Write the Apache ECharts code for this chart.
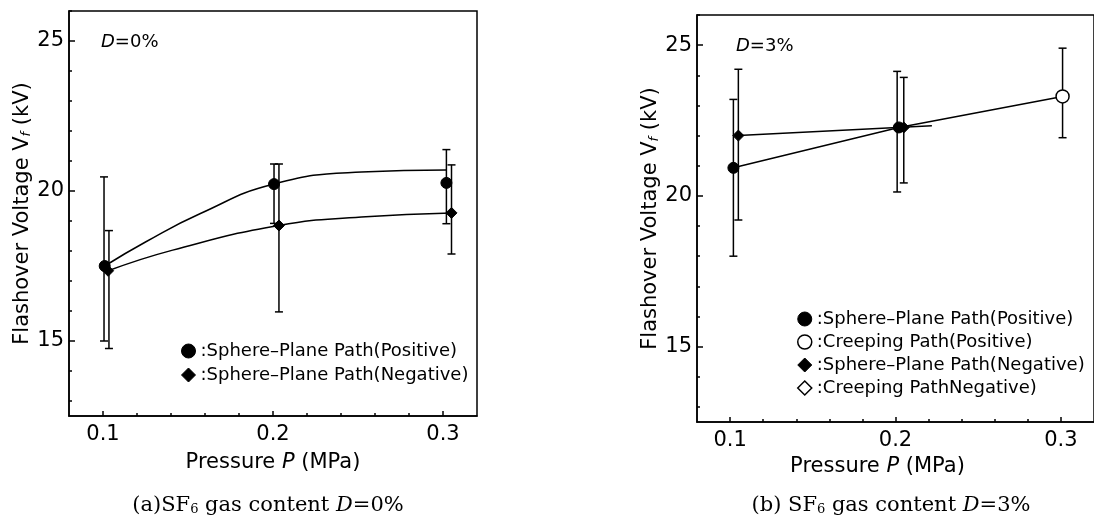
<!DOCTYPE html>
<html><head><meta charset="utf-8">
<script src="https://cdn.jsdelivr.net/npm/echarts@6/dist/echarts.min.js"></script>
<style>html,body{margin:0;padding:0;background:#fff}#c{width:1094px;height:518px}</style>
</head><body><div id="c"></div>
<script>
// ---- tick labels ----
const xTicks = [0.1, 0.2, 0.3];
const xMinorTicks = [0.12, 0.14, 0.16, 0.18, 0.22, 0.24, 0.26, 0.28];
const yTicks = [15, 20, 25];
const yMinorTicks = [13, 14, 16, 17, 18, 19, 21, 22, 23, 24, 26];

// ---- (a) D=0% ----
const aPosPoints = [[0.101, 17.5], [0.2006, 20.23], [0.302, 20.27]];
const aPosErr = [[0.1006, 15.0, 20.47], [0.2006, 18.92, 20.9], [0.302, 18.91, 21.38]];
const aNegPoints = [[0.103, 17.34], [0.2035, 18.85], [0.305, 19.27]];
const aNegErr = [[0.1035, 14.75, 18.68], [0.2035, 15.97, 20.9], [0.305, 17.9, 20.87]];
const aPosCurve = [[0.101, 17.5], [0.125, 18.3], [0.157, 19.24], [0.2006, 20.23], [0.252, 20.63], [0.302, 20.7]];
const aNegCurve = [[0.103, 17.34], [0.141, 18.03], [0.2035, 18.85], [0.252, 19.13], [0.305, 19.27]];

// ---- (b) D=3% ----
const bPosPoints = [[0.102, 20.93], [0.202, 22.27]];
const bPosErr = [[0.102, 18.0, 23.2], [0.201, 20.13, 24.13]];
const bCreepPosPoints = [[0.301, 23.3]];
const bCreepPosErr = [[0.301, 21.93, 24.9]];
const bNegPoints = [[0.105, 22.0], [0.205, 22.27]];
const bNegErr = [[0.105, 19.2, 24.2], [0.205, 20.43, 23.93]];
const bPosLine = [[0.102, 20.93], [0.202, 22.27], [0.301, 23.3]];
const bNegLine = [[0.105, 22.0], [0.222, 22.33]];

const SANS = 'DejaVu Sans';
const SERIF = 'DejaVu Serif';
const BLACK = '#000';

function errRender(params, api) {
  const x = api.value(0), lo = api.value(1), hi = api.value(2);
  const p1 = api.coord([x, hi]), p2 = api.coord([x, lo]);
  const w = 4, st = { stroke: BLACK, lineWidth: 1.5 };
  return { type: 'group', children: [
    { type: 'line', shape: { x1: p1[0], y1: p1[1], x2: p2[0], y2: p2[1] }, style: st },
    { type: 'line', shape: { x1: p1[0] - w, y1: p1[1], x2: p1[0] + w, y2: p1[1] }, style: st },
    { type: 'line', shape: { x1: p2[0] - w, y1: p2[1], x2: p2[0] + w, y2: p2[1] }, style: st }
  ]};
}

function xMain(grid, nameGap, pad) {
  return {
    type: 'value', gridIndex: grid, position: 'bottom', min: 0.08, max: 0.32,
    axisLine: { show: true, lineStyle: { color: BLACK, width: 1.5 } },
    axisTick: { show: true, inside: true, length: 5, customValues: xTicks, lineStyle: { color: BLACK, width: 1.5 } },
    axisLabel: { show: true, customValues: xTicks, formatter: v => v.toFixed(1), color: BLACK, fontSize: 21, fontFamily: SANS, margin: 8 },
    splitLine: { show: false },
    name: 'Pressure {i|P} (MPa)', nameLocation: 'middle', nameGap: nameGap,
    nameTextStyle: { color: BLACK, fontSize: 21, fontFamily: SANS, padding: pad,
      rich: { i: { fontStyle: 'italic', fontSize: 21, fontFamily: SANS, color: BLACK } } }
  };
}
function xMinor(grid) {
  return {
    type: 'value', gridIndex: grid, position: 'bottom', min: 0.08, max: 0.32,
    axisLine: { show: false },
    axisTick: { show: true, inside: true, length: 3, customValues: xMinorTicks, lineStyle: { color: BLACK, width: 1.5 } },
    axisLabel: { show: false }, splitLine: { show: false }
  };
}
function yMain(grid, nameGap) {
  return {
    type: 'value', gridIndex: grid, position: 'left', min: 12.5, max: 26,
    axisLine: { show: true, lineStyle: { color: BLACK, width: 1.5 } },
    axisTick: { show: true, inside: true, length: 6, customValues: yTicks, lineStyle: { color: BLACK, width: 1.5 } },
    axisLabel: { show: true, customValues: yTicks, color: BLACK, fontSize: 21, fontFamily: SANS, margin: 5 },
    splitLine: { show: false },
    name: 'Flashover Voltage V{sub|f} (kV)', nameLocation: 'middle', nameGap: nameGap,
    nameTextStyle: { color: BLACK, fontSize: 21, fontFamily: SANS,
      rich: { sub: { fontSize: 13, fontStyle: 'italic', fontFamily: SANS, color: BLACK, verticalAlign: 'bottom', padding: [8, 0, 0, 0] } } }
  };
}
function yMinor(grid) {
  return {
    type: 'value', gridIndex: grid, position: 'left', min: 12.5, max: 26,
    axisLine: { show: false },
    axisTick: { show: true, inside: true, length: 3, customValues: yMinorTicks, lineStyle: { color: BLACK, width: 1.5 } },
    axisLabel: { show: false }, splitLine: { show: false }
  };
}

const lineStyle = { color: BLACK, width: 1.5 };
function curve(name, data, xi, smooth) {
  return { type: 'line', name: name, data: data, xAxisIndex: xi, yAxisIndex: xi, symbol: 'none', smooth: smooth,
    lineStyle: lineStyle, silent: true, z: 2 };
}
function pts(name, data, xi, symbol, size) {
  return { type: 'scatter', name: name, data: data, xAxisIndex: xi, yAxisIndex: xi, symbol: symbol, symbolSize: size,
    itemStyle: { color: BLACK, borderColor: BLACK, borderWidth: 1, opacity: 1 }, z: 4 };
}
function errs(data, xi) {
  return { type: 'custom', data: data, xAxisIndex: xi, yAxisIndex: xi, renderItem: errRender,
    encode: { x: 0, y: [1, 2] }, silent: true, z: 3 };
}

const A = 'a ', B = 'b ';
const filled = { color: BLACK, borderColor: BLACK, borderWidth: 1, opacity: 1 };
const hollow = { color: '#fff', borderColor: BLACK, borderWidth: 1.5, opacity: 1 };
const option = {
  backgroundColor: '#fff',
  animation: false,
  grid: [
    { left: 69, top: 11, width: 408, height: 405, show: true, borderColor: BLACK, borderWidth: 1.5, backgroundColor: 'transparent' },
    { left: 697, top: 15, width: 408, height: 407, show: true, borderColor: BLACK, borderWidth: 1.5, backgroundColor: 'transparent' }
  ],
  xAxis: [xMain(0, 36, [0, 0, 0, 0]), xMinor(0), xMain(1, 30, [0, 36, 0, 0]), xMinor(1)],
  yAxis: [yMain(0, 36), yMinor(0), yMain(1, 36), yMinor(1)],
  legend: [
    { orient: 'vertical', left: 176, top: 337, itemWidth: 14, itemHeight: 14, itemGap: 6,
      textStyle: { color: BLACK, fontSize: 18, fontFamily: SANS },
      formatter: n => ':' + n.slice(2), selectedMode: false,
      data: [{ name: A + 'Sphere\u2013Plane Path(Positive)', icon: 'circle', itemStyle: filled },
             { name: A + 'Sphere\u2013Plane Path(Negative)', icon: 'diamond', itemStyle: filled }] },
    { orient: 'vertical', left: 792, top: 305, itemWidth: 14, itemHeight: 14, itemGap: 5,
      textStyle: { color: BLACK, fontSize: 18, fontFamily: SANS },
      formatter: n => ':' + n.slice(2), selectedMode: false,
      data: [{ name: B + 'Sphere\u2013Plane Path(Positive)', icon: 'circle', itemStyle: filled },
             { name: B + 'Creeping Path(Positive)', icon: 'circle', itemStyle: hollow },
             { name: B + 'Sphere\u2013Plane Path(Negative)', icon: 'diamond', itemStyle: filled },
             { name: B + 'Creeping PathNegative)', icon: 'diamond', itemStyle: hollow }] }
  ],
  graphic: [
    { type: 'text', left: 101, top: 33, style: { text: '{i|D}=0%', font: '18px "DejaVu Sans"', fill: BLACK,
      rich: { i: { fontStyle: 'italic', fontSize: 18, fontFamily: SANS, fill: BLACK } } } },
    { type: 'text', left: 736, top: 37, style: { text: '{i|D}=3%', font: '18px "DejaVu Sans"', fill: BLACK,
      rich: { i: { fontStyle: 'italic', fontSize: 18, fontFamily: SANS, fill: BLACK } } } },
    { type: 'text', x: 268, y: 506, style: { text: '(a)SF{s|6} gas content {i|D}=0%', font: '21px "DejaVu Serif"', fill: BLACK,
      align: 'center', verticalAlign: 'middle',
      rich: { s: { fontSize: 13, fontFamily: SERIF, fill: BLACK, verticalAlign: 'bottom', padding: [7, 0, 0, 0] },
              i: { fontStyle: 'italic', fontSize: 21, fontFamily: SERIF, fill: BLACK } } } },
    { type: 'text', x: 891, y: 506, style: { text: '(b) SF{s|6} gas content {i|D}=3%', font: '21px "DejaVu Serif"', fill: BLACK,
      align: 'center', verticalAlign: 'middle',
      rich: { s: { fontSize: 13, fontFamily: SERIF, fill: BLACK, verticalAlign: 'bottom', padding: [7, 0, 0, 0] },
              i: { fontStyle: 'italic', fontSize: 21, fontFamily: SERIF, fill: BLACK } } } }
  ],
  series: [
    curve('aPosCurve', aPosCurve, 0, 0.5),
    curve('aNegCurve', aNegCurve, 0, 0.5),
    errs(aPosErr, 0), errs(aNegErr, 0),
    pts(A + 'Sphere\u2013Plane Path(Positive)', aPosPoints, 0, 'circle', 11),
    pts(A + 'Sphere\u2013Plane Path(Negative)', aNegPoints, 0, 'diamond', 11),

    curve('bPosLine', bPosLine, 2, false),
    curve('bNegLine', bNegLine, 2, false),
    errs(bPosErr, 2), errs(bCreepPosErr, 2), errs(bNegErr, 2),
    pts(B + 'Sphere\u2013Plane Path(Positive)', bPosPoints, 2, 'circle', 11),
    { type: 'scatter', name: B + 'Creeping Path(Positive)', data: bCreepPosPoints, xAxisIndex: 2, yAxisIndex: 2,
      symbol: 'circle', symbolSize: 13, itemStyle: hollow, z: 5 },
    pts(B + 'Sphere\u2013Plane Path(Negative)', bNegPoints, 2, 'diamond', 11),
    { type: 'scatter', name: B + 'Creeping PathNegative)', data: [], xAxisIndex: 2, yAxisIndex: 2,
      symbol: 'diamond', symbolSize: 12, itemStyle: hollow }
  ]
};
const chart = echarts.init(document.getElementById('c'), null, { renderer: 'canvas' });
chart.setOption(option);
</script>
</body></html>
